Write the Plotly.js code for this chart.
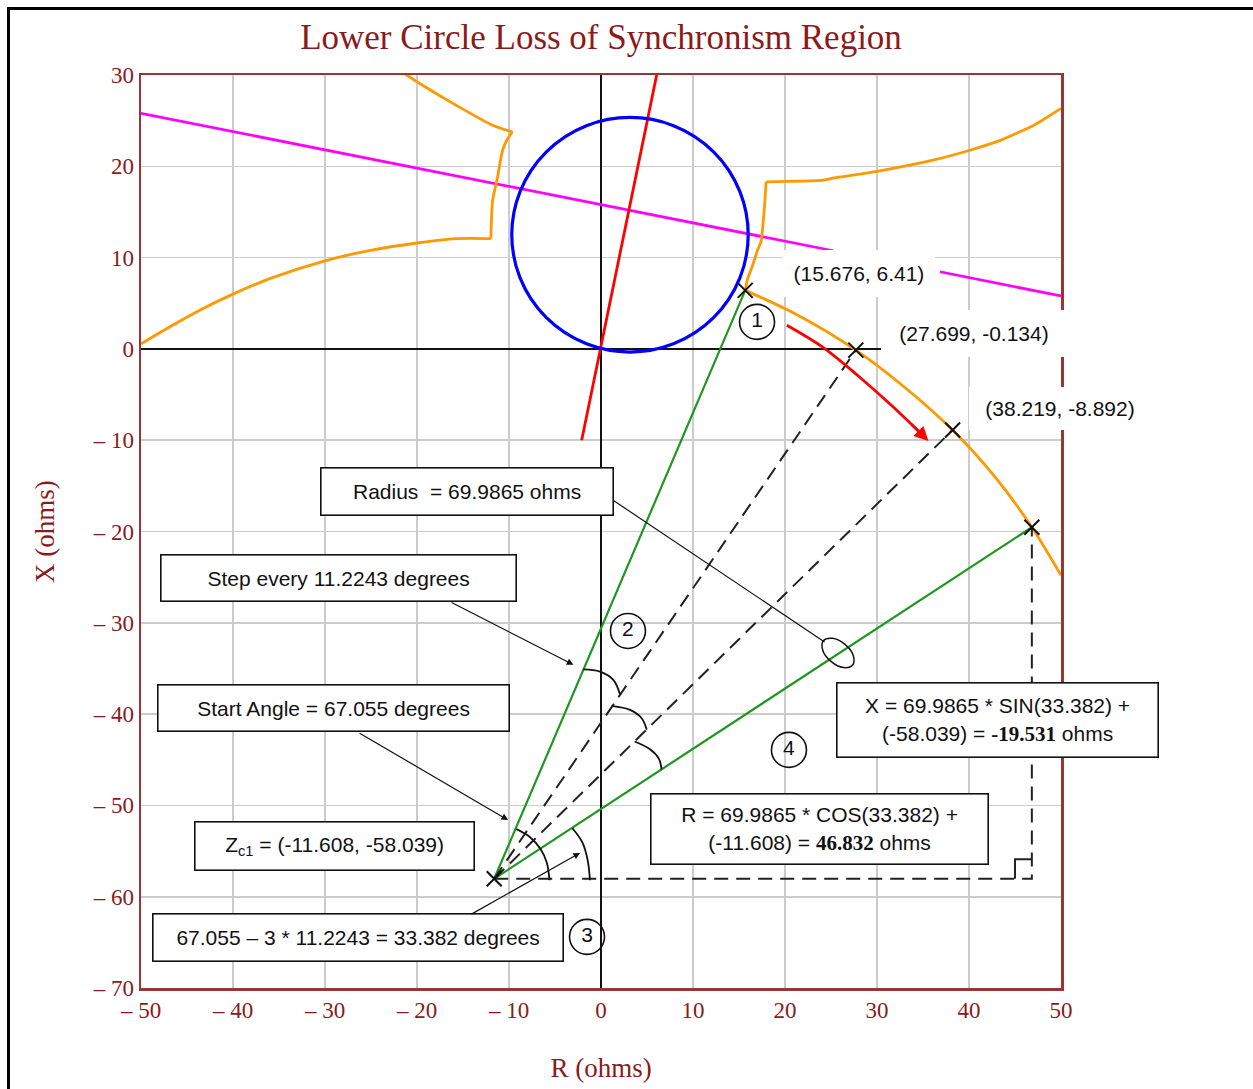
<!DOCTYPE html>
<html><head><meta charset="utf-8">
<script src="https://cdn.plot.ly/plotly-3.0.1.min.js"></script>
<style>
html,body{margin:0;padding:0;background:#fff;overflow:hidden;}
#chart{width:1253px;height:1089px;position:absolute;left:0;top:0;}
#frame{position:absolute;left:7px;top:7px;width:1300px;height:1200px;border-left:3px solid #000;border-top:3px solid #000;pointer-events:none;}
</style>
</head><body><div id="chart"></div><div id="frame"></div>
<script>
// ---------- data ----------
const xTickVals = [-50,-40,-30,-20,-10,0,10,20,30,40,50];
const xTickText = ['– 50','– 40','– 30','– 20','– 10','0','10','20','30','40','50'];
const yTickVals = [-70,-60,-50,-40,-30,-20,-10,0,10,20,30];
const yTickText = ['– 70','– 60','– 50','– 40','– 30','– 20','– 10','0','10','20','30'];

const circleCenter = [3.15, 12.5];
const circleRadius = 12.85;

const redLineR = [-2.1, 6.05];
const redLineX = [-10, 30];

const magentaR = [-50, 25.25, null, 36.85, 50];
const magentaX = [25.8, 10.75, null, 8.45, 5.8];

const orangeLeftR = [-50, -46.9, -43.3, -40, -36, -30, -25.2, -20, -15.8, -11.97, -11.79, -11.25, -10.71, -10.16, -9.62, -11.8, -15.77, -19.75, -21.55];
const orangeLeftX = [0.55, 2.4, 4.4, 6.0, 7.7, 9.65, 10.76, 11.6, 12.08, 12.08, 16.2, 18.78, 21.73, 23.02, 23.76, 24.5, 26.7, 29.1, 30.28];

const orangeRightR = [50, 47.05, 43.4, 40, 36.2, 30, 25.35, 23.9, 17.94, 17.76, 17.4, 17.03, 16.49, 15.95, 15.676, 21.0, 27.699, 33.0, 38.219, 42.8, 46.832, 50];
const orangeRightX = [26.35, 24.5, 22.84, 21.73, 20.7, 19.45, 18.72, 18.45, 18.3, 15.46, 11.77, 10.85, 9.19, 7.71, 6.41, 3.9, -0.134, -4.2, -8.892, -14.0, -19.531, -24.8];

const zc1 = [-11.608, -58.039];
const stepPtsR = [15.676, 27.699, 38.219, 46.832];
const stepPtsX = [6.41, -0.134, -8.892, -19.531];

const redArrowR = [20.2, 24.1, 28.0, 31.8, 35.3];
const redArrowX = [2.6, 0.2, -3.0, -6.4, -9.8];

const arcStartR = [-9.2, -7.77, -6.59, -5.89, -5.6];
const arcStartX = [-52.6, -53.43, -54.76, -56.28, -58.2];
const arcEndR = [-3.1, -2.0, -1.45, -1.2];
const arcEndX = [-52.5, -54.1, -56.0, -58.2];
const arcStep1R = [-1.92, -0.11, 1.34, 2.07];
const arcStep1X = [-35.1, -35.34, -36.25, -37.85];
const arcStep2R = [1.16, 3.15, 4.42, 4.97];
const arcStep2X = [-39.1, -39.54, -40.45, -41.7];
const arcStep3R = [3.65, 5.33, 6.3, 6.58];
const arcStep3X = [-43.0, -43.85, -44.9, -46.05];

const ellipseR = [27.35, 26.34, 25.0, 24.1, 24.17, 25.18, 26.52, 27.42, 27.35];
const ellipseX = [-34.63, -34.9, -34.23, -33.0, -31.96, -31.7, -32.37, -33.58, -34.63];

const radiusLeaderR = [1.2, 24.3];
const radiusLeaderX = [-16.5, -32.1];

const rightAngleR = [45.0, 45.0, 46.832];
const rightAngleX = [-58.039, -55.9, -55.9];

const circledR = [16.96, 2.93, -1.52, 20.43];
const circledX = [2.96, -30.89, -64.4, -43.92];
const circledLabels = ['1', '2', '3', '4'];

// ---------- styles ----------
const MAROON = '#8B1A1A';
const FRAME = '#9a3535';
const SERIF = 'Liberation Serif, Times New Roman, serif';
const SANS = 'Liberation Sans, Arial, sans-serif';
const ORANGE = '#ff9900';

const traces = [];
const line = (x, y, color, width, extra) => Object.assign({
  type: 'scatter', mode: 'lines', x: x, y: y, hoverinfo: 'skip', showlegend: false,
  line: Object.assign({color: color, width: width}, (extra && extra.line) || {})
}, extra && extra.other || {});
const part = (xs, ys, a, b, shape, sm) => line(xs.slice(a, b + 1), ys.slice(a, b + 1), ORANGE, 2.8, {line: {shape: shape, smoothing: sm}});

traces.push(line(magentaR, magentaX, '#ff00ff', 2.8));
// orange left branch: lower curve, step, upper segment
traces.push(part(orangeLeftR, orangeLeftX, 0, 9, 'spline', 0.8));
traces.push(part(orangeLeftR, orangeLeftX, 9, 14, 'spline', 0.6));
traces.push(part(orangeLeftR, orangeLeftX, 14, 18, 'spline', 0.6));
// orange right branch: upper curve, step, lower approach, arc
traces.push(part(orangeRightR, orangeRightX, 0, 8, 'spline', 0.5));
traces.push(part(orangeRightR, orangeRightX, 8, 14, 'spline', 0.6));
traces.push(part(orangeRightR, orangeRightX, 14, 21, 'spline', 0.8));
traces.push(line(redLineR, redLineX, '#ff0000', 2.8));

// rays from Zc1
traces.push(line([zc1[0], stepPtsR[0]], [zc1[1], stepPtsX[0]], '#1f961f', 2.2));
traces.push(line([zc1[0], stepPtsR[3]], [zc1[1], stepPtsX[3]], '#1f961f', 2.2));
traces.push(line([zc1[0], stepPtsR[1]], [zc1[1], stepPtsX[1]], '#222', 2, {line: {dash: '14px,8px'}}));
traces.push(line([zc1[0], stepPtsR[2]], [zc1[1], stepPtsX[2]], '#222', 2, {line: {dash: '14px,8px'}}));
traces.push(line([zc1[0], stepPtsR[3], stepPtsR[3]], [zc1[1], zc1[1], stepPtsX[3]], '#222', 2, {line: {dash: '14px,8px'}}));
traces.push(line(rightAngleR, rightAngleX, '#222', 2));

// red curved arrow
traces.push(line(redArrowR, redArrowX, '#ff0000', 2.8, {line: {shape: 'spline', smoothing: 1}}));

// angle arcs
[[arcStartR, arcStartX], [arcEndR, arcEndX], [arcStep1R, arcStep1X], [arcStep2R, arcStep2X], [arcStep3R, arcStep3X]].forEach(a => {
  traces.push(line(a[0], a[1], '#111', 1.8, {line: {shape: 'spline'}}));
});

// ellipse & leader
traces.push(line(ellipseR, ellipseX, '#111', 1.5, {line: {shape: 'spline'}}));
traces.push(line(radiusLeaderR, radiusLeaderX, '#111', 1.2));

// X markers
traces.push({type: 'scatter', mode: 'markers', x: stepPtsR.concat([zc1[0]]), y: stepPtsX.concat([zc1[1]]),
  hoverinfo: 'skip', showlegend: false,
  marker: {symbol: 'x-thin-open', size: 15, color: '#111', line: {color: '#111', width: 2}}});

// circled numbers
traces.push({type: 'scatter', mode: 'markers+text', x: circledR, y: circledX, text: circledLabels,
  textposition: 'middle center', textfont: {family: SANS, size: 21, color: '#111'},
  hoverinfo: 'skip', showlegend: false,
  marker: {symbol: 'circle', size: 35, color: 'rgba(255,255,255,0)', line: {color: '#111', width: 1.6}}});

// ---------- annotations ----------
const boxAnn = (x, y, text, w, h) => ({
  x: x, y: y, xref: 'x', yref: 'y', text: text, showarrow: false,
  width: w, height: h, bgcolor: '#fff', bordercolor: '#111', borderwidth: 1.6, borderpad: 0,
  font: {family: SANS, size: 21, color: '#111'}, align: 'center', valign: 'middle'
});
const lblAnn = (x, y, text, w, h, font) => ({
  x: x, y: y, xref: 'x', yref: 'y', text: text, showarrow: false,
  width: w, height: h, bgcolor: '#fff', borderwidth: 0, borderpad: 0,
  font: font || {family: SANS, size: 21, color: '#111'}, align: 'center', valign: 'middle'
});
const arrowAnn = (x, y, ax, ay, color, width, head) => ({
  x: x, y: y, ax: ax, ay: ay, xref: 'x', yref: 'y', axref: 'x', ayref: 'y', text: '',
  showarrow: true, arrowcolor: color, arrowwidth: width, arrowhead: head, arrowsize: 1.1
});

const annotations = [
  lblAnn(28.04, 8.27, '(15.676, 6.41)', 152, 47),
  lblAnn(40.5, 1.70, '(27.699, -0.134)', 186, 47),
  lblAnn(49.89, -6.52, '(38.219, -8.892)', 182, 43),
  lblAnn(59.24, -18.18, '(46.832, -19.531)', 196, 46, {family: SERIF, size: 22, color: '#111', weight: 'bold'}),
  boxAnn(-14.62, -15.66, 'Radius  = 69.9865 ohms', 291, 46),
  boxAnn(-28.48, -25.14, 'Step every 11.2243 degrees', 354, 45),
  boxAnn(-29.13, -39.38, 'Start Angle = 67.055 degrees', 350, 45),
  boxAnn(-29.02, -54.49, 'Z<sub>c1</sub> = (-11.608, -58.039)', 278, 47),
  boxAnn(-26.36, -64.51, '67.055 – 3 * 11.2243 = 33.382 degrees', 409, 46),
  boxAnn(43.15, -40.69, 'X = 69.9865 * SIN(33.382) +<br>(-58.039) = <span style="font-family:Liberation Serif;font-weight:bold">-19.531</span> ohms', 320, 73),
  boxAnn(23.70, -52.63, 'R = 69.9865 * COS(33.382) +<br>(-11.608) = <span style="font-family:Liberation Serif;font-weight:bold">46.832</span> ohms', 336, 69),
  arrowAnn(35.6, -10.1, 33.6, -8.1, '#ff0000', 2.6, 2),
  arrowAnn(-3.0, -34.6, -16.4, -27.7, '#111', 1.2, 2),
  arrowAnn(-10.1, -51.6, -26.4, -42.0, '#111', 1.2, 2),
  arrowAnn(-2.28, -55.2, -14.24, -62.0, '#111', 1.2, 2)
];

const shapes = [{
  type: 'circle', xref: 'x', yref: 'y', layer: 'above',
  x0: circleCenter[0] - circleRadius, x1: circleCenter[0] + circleRadius,
  y0: circleCenter[1] - circleRadius, y1: circleCenter[1] + circleRadius,
  line: {color: '#0000ff', width: 3.2}
}];

const axisCommon = {
  showgrid: true, gridcolor: '#cccccc', gridwidth: 1.6,
  zeroline: true, zerolinecolor: '#111', zerolinewidth: 1.8,
  showline: true, mirror: true, linecolor: FRAME, linewidth: 2.5,
  ticks: '', tickfont: {family: SERIF, size: 23, color: MAROON},
  tickmode: 'array', fixedrange: true
};

const layout = {
  width: 1253, height: 1089,
  margin: {l: 141, r: 192, t: 75, b: 101},
  paper_bgcolor: '#fff', plot_bgcolor: '#fff',
  showlegend: false,
  title: {text: 'Lower Circle Loss of Synchronism Region', font: {family: SERIF, size: 35, color: MAROON},
          x: 0.5, xref: 'paper', y: 1 - 37 / 1089, yref: 'container', yanchor: 'middle'},
  xaxis: Object.assign({}, axisCommon, {range: [-50, 50], tickvals: xTickVals, ticktext: xTickText,
          title: {text: 'R (ohms)', font: {family: SERIF, size: 27, color: MAROON}, standoff: 36}}),
  yaxis: Object.assign({}, axisCommon, {range: [-70, 30], tickvals: yTickVals, ticktext: yTickText,
          title: {text: 'X (ohms)', font: {family: SERIF, size: 27, color: MAROON}, standoff: 30}}),
  annotations: annotations,
  shapes: shapes
};

Plotly.newPlot('chart', traces, layout, {displayModeBar: false, staticPlot: true});
</script>
</body></html>
